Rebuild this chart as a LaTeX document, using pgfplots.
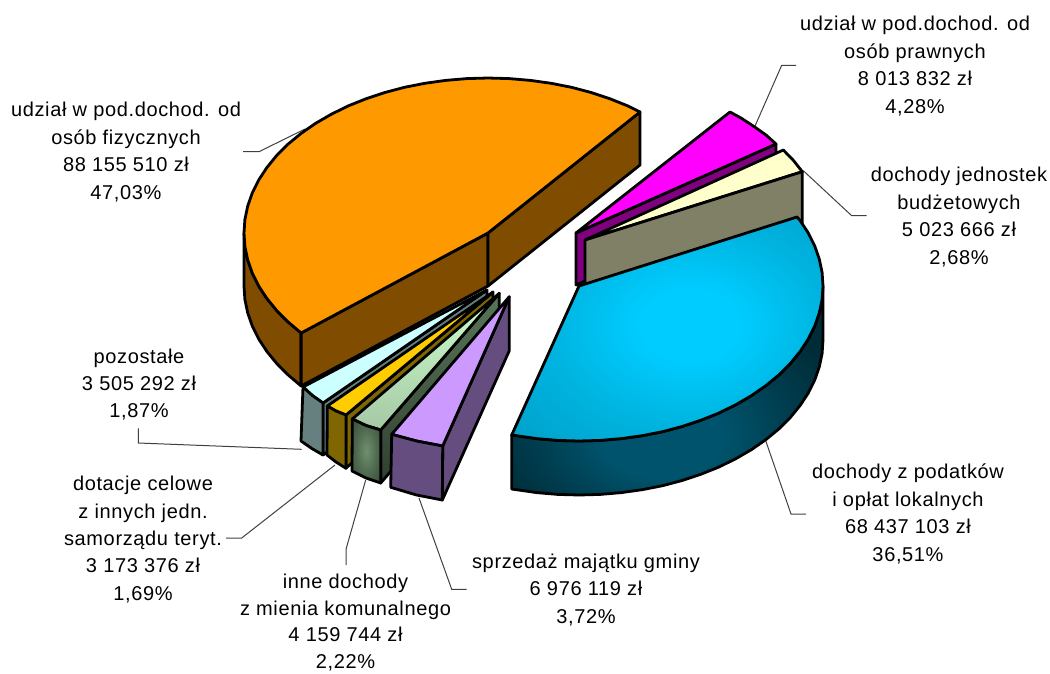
\documentclass[border=0pt]{standalone}
\usepackage{pgfplots}
\pgfplotsset{compat=1.18}
\usepackage{fontspec}
\setmainfont[LetterSpace=3.2]{Liberation Sans}
\definecolor{c00}{HTML}{00CCFF}
\definecolor{c01}{HTML}{00B4E0}
\definecolor{c02}{HTML}{00A0C8}
\definecolor{c03}{HTML}{0092B8}
\definecolor{s00}{HTML}{00536C}
\definecolor{s01}{HTML}{003E50}
\definecolor{s02}{HTML}{002C38}
\definecolor{g00}{HTML}{6F906F}
\definecolor{g01}{HTML}{4F6A4F}
\definecolor{g02}{HTML}{303F30}
\pgfdeclareradialshading{bluetop}{\pgfpoint{4bp}{1bp}}{color(0bp)=(c00); color(8bp)=(c00); color(22bp)=(c01); color(38bp)=(c02); color(54bp)=(c03); color(100bp)=(c03)}
\pgfdeclareradialshading{blueside}{\pgfpoint{-1bp}{-12bp}}{color(0bp)=(s00); color(10bp)=(s00); color(20bp)=(s01); color(30bp)=(s02); color(100bp)=(s02)}
\pgfdeclareradialshading{greenside}{\pgfpoint{0bp}{0bp}}{color(0bp)=(g00); color(18bp)=(g01); color(42bp)=(g02); color(100bp)=(g02)}
\pgfplotsset{pie/.style={draw=black,line width=2.8pt,line join=round,no markers,sharp plot},
 leader/.style={draw=black!75,line width=1pt,no markers,sharp plot}}
\tikzset{lab/.style={align=center,font=\fontsize{20}{27.4}\selectfont,inner sep=0pt}}
\begin{document}
\begin{tikzpicture}
\begin{axis}[scale only axis,width=1050pt,height=673pt,xmin=0,xmax=1050,ymin=0,ymax=673,y dir=reverse,axis lines=none,clip=false]
% leaders
\addplot[leader] coordinates {(243,151.7)(259,151.7)(305,129)};
\addplot[leader] coordinates {(796,65.3)(781.7,65.3)(755,126)};
\addplot[leader] coordinates {(866.7,215.7)(851.7,215.7)(803.3,170.7)};
\addplot[leader] coordinates {(765.7,440.7)(791,514)(806,514)};
\addplot[leader] coordinates {(419,498)(451.7,589.3)(466.7,589.3)};
\addplot[leader] coordinates {(365.7,480)(346,549.3)(346,565)};
\addplot[leader] coordinates {(335,465)(241.7,538)(226,538)};
\addplot[leader] coordinates {(138.3,428.3)(138.3,443)(301.7,449.3)};
% magenta
\addplot[pie,fill={rgb,255:red,128;green,0;blue,128}] coordinates {(576,233)(776,144)(776,196)(576,285)} -- cycle;
\addplot[pie,fill={rgb,255:red,255;green,0;blue,255}] coordinates {(576,233)(730,112)(741,118)(754,126.5)(766,135)(776,144)} -- cycle;
% cream
\addplot[pie,fill={rgb,255:red,255;green,255;blue,204}] coordinates {(585,240)(783.3,150)(793.5,160.5)(802.3,171.7)} -- cycle;
\addplot[pie,fill={rgb,255:red,128;green,128;blue,102}] coordinates {(585,240)(802.3,171.7)(802.3,225)(585,293)} -- cycle;
% blue
\addplot[pie,shade,shading=blueside] coordinates {(823,286)(822.1,299.5)(819.3,312.9)(814.7,326.1)(808.3,339)(800.1,351.5)(790.3,363.5)(778.9,374.9)(765.9,385.6)(751.5,395.6)(735.8,404.7)(719,413)(701,420.2)(682.1,426.5)(662.5,431.7)(642.1,435.7)(621.4,438.6)(600.3,440.4)(579,441)(557.7,440.4)(536.6,438.6)(511.7,435)
(511.7,489)(536.6,492.6)(557.7,494.4)(579,495)(600.3,494.4)(621.4,492.6)(642.1,489.7)(662.5,485.7)(682.1,480.5)(701,474.2)(719,467)(735.8,458.7)(751.5,449.6)(765.9,439.6)(778.9,428.9)(790.3,417.5)(800.1,405.5)(808.3,393)(814.7,380.1)(819.3,366.9)(822.1,353.5)(823,340)} -- cycle;
\addplot[pie,shade,shading=bluetop] coordinates {(579,286)(797,217)(800.1,220.5)(808.3,233)(814.7,245.9)(819.3,259.1)(822.1,272.5)(823,286)(822.1,299.5)(819.3,312.9)(814.7,326.1)(808.3,339)(800.1,351.5)(790.3,363.5)(778.9,374.9)(765.9,385.6)(751.5,395.6)(735.8,404.7)(719,413)(701,420.2)(682.1,426.5)(662.5,431.7)(642.1,435.7)(621.4,438.6)(600.3,440.4)(579,441)(557.7,440.4)(536.6,438.6)(511.7,435)} -- cycle;
% pale cyan
\addplot[pie,fill={rgb,255:red,102;green,128;blue,128}] coordinates {(487,290)(323,403)(323,455)(487,342)} -- cycle;
\addplot[pie,fill={rgb,255:red,204;green,255;blue,255}] coordinates {(487,290)(303,387)(312.5,395.6)(323,403)} -- cycle;
\addplot[pie,fill={rgb,255:red,102;green,128;blue,128}] coordinates {(303,387)(312.5,395.6)(323,403)(323,455)(312,448.6)(301,441)} -- cycle;
% yellow
\addplot[pie,fill={rgb,255:red,128;green,102;blue,0}] coordinates {(493,292)(346,415)(346,468)(493,345)} -- cycle;
\addplot[pie,fill={rgb,255:red,255;green,204;blue,0}] coordinates {(493,292)(327.3,406)(336,411)(346,415)} -- cycle;
\addplot[pie,fill={rgb,255:red,128;green,102;blue,0}] coordinates {(327.3,406)(336,411)(346,415)(346,468.3)(336,462)(327,455)} -- cycle;
% green
\addplot[pie,shade,bottom color=g02,top color=g01!70!g00] coordinates {(499.3,293.3)(380.7,430)(380.7,483)(499.3,346)} -- cycle;
\addplot[pie,shade,bottom color={rgb,255:red,165;green,200;blue,165},top color={rgb,255:red,204;green,255;blue,204}] coordinates {(499.3,293.3)(352.3,419)(366,425.5)(380.7,430)} -- cycle;
\addplot[pie,shade,shading=greenside] coordinates {(352.3,419)(366,425.5)(380.7,430)(380.7,483)(366,478)(352,471)} -- cycle;
% purple
\addplot[pie,fill={rgb,255:red,102;green,77;blue,128}] coordinates {(509.3,296.7)(442.7,446)(442.3,500)(509.3,350.7)} -- cycle;
\addplot[pie,fill={rgb,255:red,204;green,153;blue,255}] coordinates {(509.3,296.7)(391.7,434.3)(416.5,441)(442.7,446)} -- cycle;
\addplot[pie,fill={rgb,255:red,102;green,77;blue,128}] coordinates {(391.7,434.3)(416.5,441)(442.7,446)(442.3,500)(416.5,495)(390.7,487.3)} -- cycle;
% orange
\addplot[pie,fill={rgb,255:red,128;green,77;blue,0}] coordinates {(244,233)(244.9,246.5)(247.7,259.9)(252.3,273.1)(258.7,286)(266.9,298.5)(276.7,310.5)(288.1,321.9)(301.1,333)(301.1,386)(288.1,374.9)(276.7,363.5)(266.9,351.5)(258.7,339)(252.3,326.1)(247.7,312.9)(244.9,299.5)(244,286)} -- cycle;
\addplot[pie,fill={rgb,255:red,128;green,77;blue,0}] coordinates {(488,233)(301.1,333)(301.1,386)(488,286)} -- cycle;
\addplot[pie,fill={rgb,255:red,128;green,77;blue,0}] coordinates {(488,233)(640,112)(640,165)(488,286)} -- cycle;
\addplot[pie,fill={rgb,255:red,255;green,153;blue,0}] coordinates {(488,233)(640,112)(628,106)(610,98.8)(591.1,92.5)(571.5,87.3)(551.1,83.3)(530.4,80.4)(509.3,78.6)(488,78)(466.7,78.6)(445.6,80.4)(424.9,83.3)(404.5,87.3)(384.9,92.5)(366,98.8)(348,106)(331.2,114.3)(315.5,123.4)(301.1,133.4)(288.1,144.1)(276.7,155.5)(266.9,167.5)(258.7,180)(252.3,192.9)(247.7,206.1)(244.9,219.5)(244,233)(244.9,246.5)(247.7,259.9)(252.3,273.1)(258.7,286)(266.9,298.5)(276.7,310.5)(288.1,321.9)(301.1,333)} -- cycle;
% labels
\node[lab] at (axis cs:126,152) {udział w pod.dochod. od\\osób fizycznych\\88 155 510 zł\\47,03\%};
\node[lab] at (axis cs:915,66) {udział w pod.dochod. od\\osób prawnych\\8 013 832 zł\\4,28\%};
\node[lab] at (axis cs:959,217) {dochody jednostek\\budżetowych\\5 023 666 zł\\2,68\%};
\node[lab] at (axis cs:908,514) {dochody z podatków\\i opłat lokalnych\\68 437 103 zł\\36,51\%};
\node[lab] at (axis cs:586,590) {sprzedaż majątku gminy\\6 976 119 zł\\3,72\%};
\node[lab,font=\fontsize{20}{26.5}\selectfont] at (axis cs:345.5,622.5) {inne dochody\\z mienia komunalnego\\4 159 744 zł\\2,22\%};
\node[lab] at (axis cs:143,539.5) {dotacje celowe\\z innych jedn.\\samorządu teryt.\\3 173 376 zł\\1,69\%};
\node[lab] at (axis cs:139,384.5) {pozostałe\\3 505 292 zł\\1,87\%};
\end{axis}
\pgfresetboundingbox
\path[use as bounding box] (current axis.south west) rectangle (current axis.north east);
\end{tikzpicture}
\end{document}
